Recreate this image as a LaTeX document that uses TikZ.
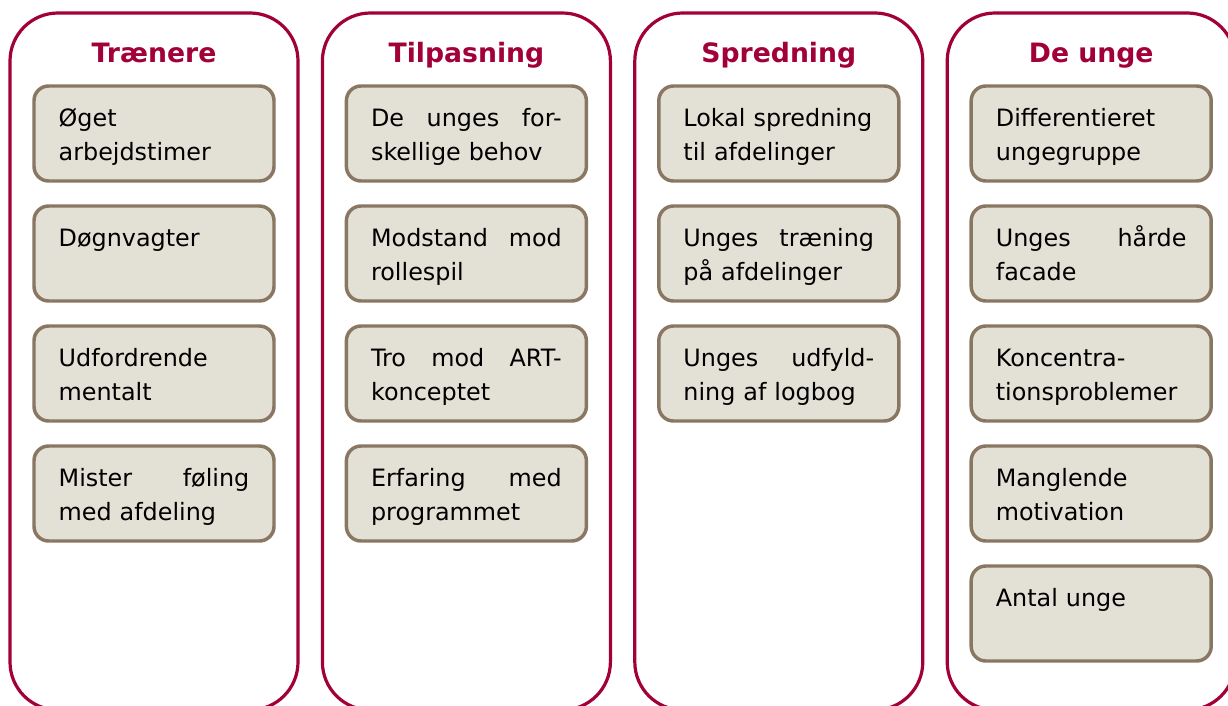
\documentclass[tikz,border=0pt]{standalone}
\usepackage{fontspec}
\setmainfont{DejaVu Sans}
\definecolor{a20038}{HTML}{A20038}
\definecolor{e3e0d5}{HTML}{E3E0D5}
\definecolor{8a7763}{HTML}{8A7763}
\begin{document}
\begin{tikzpicture}[x=.75pt,y=-.75pt,
    frame/.style={draw=a20038,line width=2.4pt,rounded corners=36pt},
    head/.style={text=a20038,font=\fontsize{20}{24}\selectfont\bfseries,inner sep=0,anchor=base},
    card/.style={draw=8a7763,fill=e3e0d5,line width=2.6pt,rounded corners=11pt,
        minimum width=180pt,minimum height=71.25pt,text width=143pt,align=left,
        inner xsep=18.5pt,font=\fontsize{17.9}{25.9}\selectfont}]
    \newcommand{\cardtop}{\rule{0pt}{22.6pt}}
    \useasboundingbox(0,0)rectangle(1228,706);
    \begin{scope}
    \clip(0,0)rectangle(1228,706);
    \foreach \i in {0,1,2,3}
        \draw[frame](10+312.4*\i,13)rectangle++(288,697);
    \end{scope}
    \node[head](hA)at(154,63){Trænere};
    \node[head](hB)at(466.4,63){Tilpasning};
    \node[head](hC)at(778.8,63){Spredning};
    \node[head](hD)at(1091.2,63){De unge};
    \node[card](a1)at(154,133.5){\cardtop Øget\\arbejdstimer\strut};
    \node[card](a2)at(154,253.5){\cardtop Døgnvagter\\\strut};
    \node[card](a3)at(154,373.5){\cardtop Udfordrende\\mentalt\strut};
    \node[card](a4)at(154,493.5){\cardtop Mister\hfill føling\\med afdeling\strut};
    \node[card](b1)at(466.4,133.5){\cardtop De\hfill unges\hfill for-\\skellige behov\strut};
    \node[card](b2)at(466.4,253.5){\cardtop Modstand\hfill mod\\rollespil\strut};
    \node[card](b3)at(466.4,373.5){\cardtop Tro\hfill mod\hfill ART-\\konceptet\strut};
    \node[card](b4)at(466.4,493.5){\cardtop Erfaring\hfill med\\programmet\strut};
    \node[card](c1)at(778.8,133.5){\cardtop Lokal spredning\\til afdelinger\strut};
    \node[card](c2)at(778.8,253.5){\cardtop Unges\hfill træning\\på afdelinger\strut};
    \node[card](c3)at(778.8,373.5){\cardtop Unges\hfill udfyld-\\ning af logbog\strut};
    \node[card](d1)at(1091.2,133.5){\cardtop Differentieret\\ungegruppe\strut};
    \node[card](d2)at(1091.2,253.5){\cardtop Unges\hfill hårde\\facade\strut};
    \node[card](d3)at(1091.2,373.5){\cardtop Koncentra-\\tionsproblemer\strut};
    \node[card](d4)at(1091.2,493.5){\cardtop Manglende\\motivation\strut};
    \node[card](d5)at(1091.2,613.5){\cardtop Antal unge\\\strut};
\end{tikzpicture}
\end{document}
